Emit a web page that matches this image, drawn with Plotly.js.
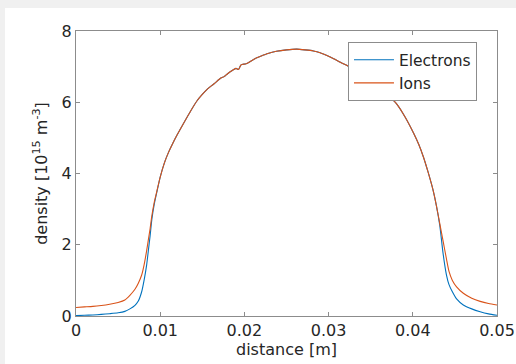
<!DOCTYPE html>
<html>
<head>
<meta charset="utf-8">
<script src="https://cdn.plot.ly/plotly-3.0.1.min.js"></script>
<style>
html,body{margin:0;padding:0;background:#f0f0f0;width:516px;height:364px;overflow:hidden;}
#chart{position:absolute;left:5px;top:8px;width:511px;height:356px;background:#fff;}
</style>
</head>
<body>
<div id="chart"></div>
<script>
const distance = [0,0.001,0.002,0.003,0.004,0.005,0.0058,0.0064,0.0070,0.0074,0.0078,0.0081,0.0084,0.0086,0.0088,0.0090,0.0093,0.0096,0.0100,0.0105,0.0110,0.0115,0.0120,0.0128,0.0136,0.0144,0.0150,0.0156,0.0164,0.0172,0.0176,0.0180,0.0186,0.0190,0.0193,0.0196,0.0202,0.0208,0.0214,0.0220,0.0228,0.0238,0.0250,0.0262,0.0272,0.0282,0.0290,0.0298,0.0306,0.0314,0.0322,0.0330,0.0340,0.0350,0.0361,0.0371,0.0381,0.0391,0.0401,0.0407,0.04125,0.0418,0.0424,0.0428,0.0432,0.0436,0.0440,0.0443,0.0447,0.0452,0.0460,0.0470,0.0480,0.0490,0.0500];
const ions = [0.24,0.255,0.27,0.295,0.33,0.38,0.45,0.58,0.75,0.92,1.15,1.45,1.85,2.15,2.45,2.8,3.2,3.5,3.9,4.3,4.6,4.85,5.08,5.42,5.75,6.05,6.22,6.37,6.52,6.68,6.72,6.8,6.9,6.95,6.92,7.05,7.08,7.16,7.24,7.3,7.37,7.43,7.47,7.49,7.47,7.44,7.39,7.31,7.22,7.12,7.03,6.9,6.73,6.55,6.34,6.17,5.95,5.58,5.13,4.82,4.47,4.05,3.54,3.1,2.6,2.1,1.6,1.25,1.0,0.82,0.64,0.5,0.41,0.35,0.31];
const electrons = [0.01,0.02,0.03,0.045,0.065,0.09,0.13,0.2,0.3,0.42,0.68,1.02,1.45,1.85,2.25,2.7,3.15,3.48,3.9,4.3,4.6,4.85,5.08,5.42,5.75,6.05,6.22,6.37,6.52,6.68,6.72,6.8,6.9,6.95,6.92,7.05,7.08,7.16,7.24,7.3,7.37,7.43,7.47,7.49,7.47,7.44,7.39,7.31,7.22,7.12,7.03,6.9,6.73,6.55,6.34,6.17,5.95,5.58,5.13,4.82,4.47,4.05,3.54,3.1,2.55,1.75,1.15,0.88,0.68,0.48,0.31,0.2,0.12,0.06,0.02];
const xTicks = [0,0.01,0.02,0.03,0.04,0.05];
const xTickText = ['0','0.01','0.02','0.03','0.04','0.05'];
const yTicks = [0,2,4,6,8];
const seriesNames = ['Electrons','Ions'];

const font = {family:'"DejaVu Sans", "Liberation Sans", Arial, sans-serif', size:16, color:'#262626'};
const legendFont = {family:'"DejaVu Sans", "Liberation Sans", Arial, sans-serif', size:15.5, color:'#262626'};
const axisCommon = {
  showline:true, mirror:'ticks', linecolor:'#8c8c8c', linewidth:1,
  ticks:'inside', ticklen:4, tickcolor:'#8c8c8c', tickwidth:1,
  showgrid:false, zeroline:false, tickfont:font
};
const data = [
  {x:distance, y:electrons, name:seriesNames[0], mode:'lines', line:{color:'#0072BD', width:1.1, shape:'spline', smoothing:0.6}},
  {x:distance, y:ions, name:seriesNames[1], mode:'lines', line:{color:'#D95319', width:1.1, shape:'spline', smoothing:0.6}}
];
const layout = {
  width:511, height:356,
  margin:{l:71, r:19, t:23, b:48},
  paper_bgcolor:'#ffffff', plot_bgcolor:'#ffffff',
  font:font,
  xaxis:Object.assign({}, axisCommon, {range:[0,0.05], tickvals:xTicks, ticktext:xTickText,
    title:{text:'distance [m]', font:font, standoff:4}}),
  yaxis:Object.assign({}, axisCommon, {range:[0,8], tickvals:yTicks,
    title:{text:'density [10<sup>15</sup> m<sup>-3</sup>]', font:font, standoff:10}}),
  legend:{x:0.646, y:0.961, xanchor:'left', yanchor:'top', bgcolor:'#ffffff',
    bordercolor:'#8c8c8c', borderwidth:1, font:legendFont, itemwidth:40, tracegroupgap:0},
  showlegend:true
};
Plotly.newPlot('chart', data, layout, {staticPlot:true, displayModeBar:false});
</script>
</body>
</html>
